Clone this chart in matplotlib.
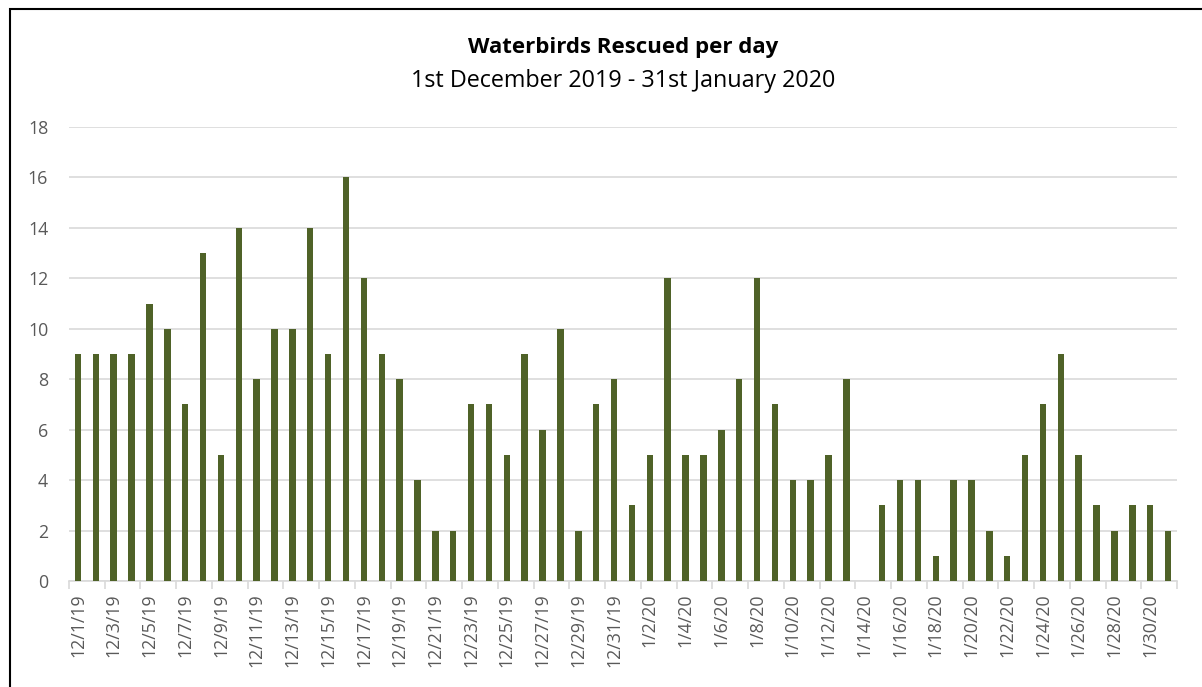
import matplotlib.pyplot as plt
from matplotlib.patches import Rectangle

# daily counts, 1 Dec 2019 .. 31 Jan 2020
dec_counts = [9, 9, 9, 9, 11, 10, 7, 13, 5, 14, 8, 10, 10, 14, 9, 16, 12, 9, 8, 4,
              2, 2, 7, 7, 5, 9, 6, 10, 2, 7, 8]
jan_counts = [3, 5, 12, 5, 5, 6, 8, 12, 7, 4, 4, 5, 8, 0, 3, 4, 4, 1, 4, 4,
              2, 1, 5, 7, 9, 5, 3, 2, 3, 3, 2]

dec_labels = ['12/%d/19' % d for d in range(1, 32)]
jan_labels = ['1/%d/20' % d for d in range(1, 32)]

counts = dec_counts + jan_counts
labels = dec_labels + jan_labels

plt.rcParams['font.family'] = ['Open Sans', 'DejaVu Sans']

fig = plt.figure(figsize=(12.02, 6.87), dpi=100)
ax = fig.add_axes([69 / 1202, 1 - 581 / 687, (1177 - 69) / 1202, (581 - 127) / 687])

x = list(range(len(counts)))
ax.bar(x, counts, width=0.36, color='#4F6228', zorder=3)

ax.set_xlim(-0.5, len(counts) - 0.5)
ax.set_ylim(0, 18)
ax.set_yticks(range(0, 19, 2))
ax.grid(axis='y', color='#D9D9D9', linewidth=1.2, zorder=0)
ax.tick_params(axis='y', length=0, labelsize=12.8, labelcolor='#595959', pad=15)

# labels every other day, tick marks between pairs
ax.set_xticks(x[::2])
ax.set_xticklabels(labels[::2], rotation=90, fontsize=12.8, color='#595959')
ax.set_xticks([i - 0.5 for i in range(0, len(counts) + 1, 2)], minor=True)
ax.tick_params(axis='x', which='major', length=0, pad=9)
ax.tick_params(axis='x', which='minor', length=6, color='#D9D9D9', width=1.2)

for s in ['top', 'right', 'left']:
    ax.spines[s].set_visible(False)
ax.spines['bottom'].set_color('#D9D9D9')
ax.spines['bottom'].set_linewidth(1.2)

fig.text(623 / 1202, 1 - 47 / 687, 'Waterbirds Rescued per day', ha='center', va='center',
         fontsize=16, fontweight='bold', color='black')
fig.text(623 / 1202, 1 - 81 / 687, '1st December 2019 - 31st January 2020', ha='center',
         va='center', fontsize=16.8, color='black')

# chart frame
fig.patches.append(Rectangle((10 / 1202, -0.1), 1.2, 1 - 9 / 687 + 0.1, transform=fig.transFigure,
                             fill=False, edgecolor='black', linewidth=1.5))

fig.savefig('out.png', dpi=100)
